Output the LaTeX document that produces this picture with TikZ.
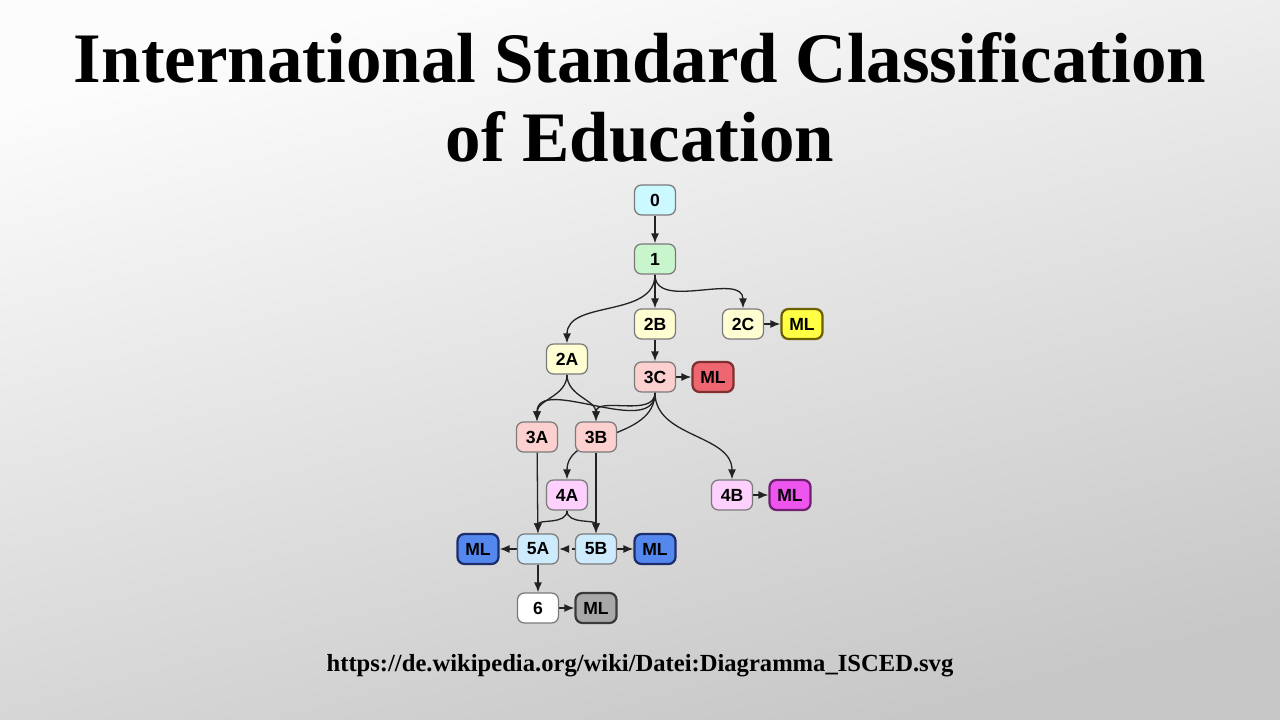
\documentclass[tikz,border=0pt]{standalone}
\usepackage{fontspec}
\setmainfont{Liberation Serif}
\setsansfont{Liberation Sans}
\usepackage{tikz}
\usepackage{xcolor}
\usetikzlibrary{
    arrows.meta,
    calc,
    positioning
}
\pgfdeclarelayer{back}
\pgfdeclarelayer{lines}
\pgfsetlayers{back,lines,main}

\definecolor{lvlzero}{HTML}{CCF8FF}
\definecolor{lvlone}{HTML}{C9F5CC}
\definecolor{lvltwo}{HTML}{FFFDD2}
\definecolor{lvlthree}{HTML}{FDD0D0}
\definecolor{lvlfour}{HTML}{FDD0FD}
\definecolor{lvlfive}{HTML}{CDEBFD}
\definecolor{mlyellow}{HTML}{FFFF44}
\definecolor{mlyellowrim}{HTML}{6B6000}
\definecolor{mlred}{HTML}{EE6670}
\definecolor{mlredrim}{HTML}{803030}
\definecolor{mlmagenta}{HTML}{EE55EE}
\definecolor{mlmagentarim}{HTML}{702070}
\definecolor{mlblue}{HTML}{5588EE}
\definecolor{mlbluerim}{HTML}{1C2E6B}
\definecolor{mlgrey}{HTML}{A8A8A8}
\definecolor{mlgreyrim}{HTML}{3A3A3A}
\definecolor{rim}{HTML}{7A7A7A}
\definecolor{wire}{HTML}{222222}

\begin{document}
\begin{tikzpicture}[x=0.2mm, y=-0.2mm,
    >={Latex[length=2mm, width=1.6mm]},
    level/.style={draw=rim, line width=0.25mm, rounded corners=1.4mm,
        minimum width=8.2mm, minimum height=6mm, inner sep=0pt,
        font=\sffamily\bfseries\fontsize{10}{11}\selectfont},
    mlbox/.style={level, line width=0.45mm},
    wiring/.style={->, draw=wire, line width=0.26mm}]
                        \useasboundingbox (0, 0) rectangle (1280, 720);
                        \begin{pgfonlayer}{back}
                            \shade[top color=white!99!black, bottom color=white!78!black, shading angle=15]
                            (0, 0) rectangle (1280, 720);
                        \end{pgfonlayer}
                        \node[font=\bfseries\fontsize{40.4}{48}\selectfont, anchor=base] (title) at (640, 83) {International Standard Classification};
                        \node[font=\bfseries\fontsize{40.4}{48}\selectfont, anchor=base] (subtitle) at (640, 162) {of Education};
                        \node[font=\bfseries\fontsize{14}{16}\selectfont, anchor=base] (source) at (640, 671) {https://de.wikipedia.org/wiki/Datei:Diagramma\_ISCED.svg};
                        \node[level, fill=lvlzero] (n0) at (655, 200) {0};
                        \node[level, fill=lvlone] (n1) at (655, 259) {1};
                        \node[level, fill=lvltwo] (n2A) at (567, 359) {2A};
                        \node[level, fill=lvltwo] (n2B) at (655, 324) {2B};
                        \node[level, fill=lvltwo] (n2C) at (743, 324) {2C};
                        \node[mlbox, fill=mlyellow, draw=mlyellowrim] (ml2C) at (802, 324) {ML};
                        \node[level, fill=lvlthree] (n3C) at (655, 377) {3C};
                        \node[mlbox, fill=mlred, draw=mlredrim] (ml3C) at (713, 377) {ML};
                        \node[level, fill=lvlthree] (n3A) at (537, 437) {3A};
                        \node[level, fill=lvlthree] (n3B) at (596, 437) {3B};
                        \node[level, fill=lvlfour] (n4A) at (567, 495) {4A};
                        \node[level, fill=lvlfour] (n4B) at (732, 495) {4B};
                        \node[mlbox, fill=mlmagenta, draw=mlmagentarim] (ml4B) at (790, 495) {ML};
                        \node[level, fill=lvlfive] (n5A) at (538, 549) {5A};
                        \node[level, fill=lvlfive] (n5B) at (596, 549) {5B};
                        \node[mlbox, fill=mlblue, draw=mlbluerim] (ml5A) at (478, 549) {ML};
                        \node[mlbox, fill=mlblue, draw=mlbluerim] (ml5B) at (655, 549) {ML};
                        \node[level, fill=white] (n6) at (538, 608) {6};
                        \node[mlbox, fill=mlgrey, draw=mlgreyrim] (ml6) at (596, 608) {ML};
                        \begin{pgfonlayer}{lines}
                            \draw[wiring] (n0) -- (n1);
                            \draw[wiring] (n1) -- (n2B);
                            \draw[wiring] (n1.south) to[out=-90, in=90] (n2A.north);
                            \draw[wiring] (n1.south) to[out=-90, in=90] (n2C.north);
                            \draw[wiring] (n2B) -- (n3C);
                            \draw[wiring] (n2C) -- (ml2C);
                            \draw[wiring] (n3C) -- (ml3C);
                            \draw[wiring] (n2A.south) to[out=-90, in=90] (n3A.north);
                            \draw[wiring] (n2A.south) to[out=-90, in=90] (n3B.north);
                            \draw[wiring] (n3C.south) to[out=-90, in=90] (n3A.north);
                            \draw[wiring] (n3C.south) to[out=-90, in=90] (n3B.north);
                            \draw[wiring] (n3C.south) to[out=-90, in=90] (n4A.north);
                            \draw[wiring] (n3C.south) to[out=-90, in=90] (n4B.north);
                            \draw[wiring] (n3A) -- (n5A);
                            \draw[wiring] (n3B) -- (n5B);
                            \draw[wiring] (n4A.south) to[out=-90, in=90] (n5A.north);
                            \draw[wiring] (n4A.south) to[out=-90, in=90] (n5B.north);
                            \draw[wiring] (n4B) -- (ml4B);
                            \draw[wiring, dash pattern=on 0.6mm off 0.6mm] (n5B) -- (n5A);
                            \draw[wiring] (n5A) -- (ml5A);
                            \draw[wiring] (n5B) -- (ml5B);
                            \draw[wiring] (n5A) -- (n6);
                            \draw[wiring] (n6) -- (ml6);
                        \end{pgfonlayer}
                    \end{tikzpicture}
\end{document}
